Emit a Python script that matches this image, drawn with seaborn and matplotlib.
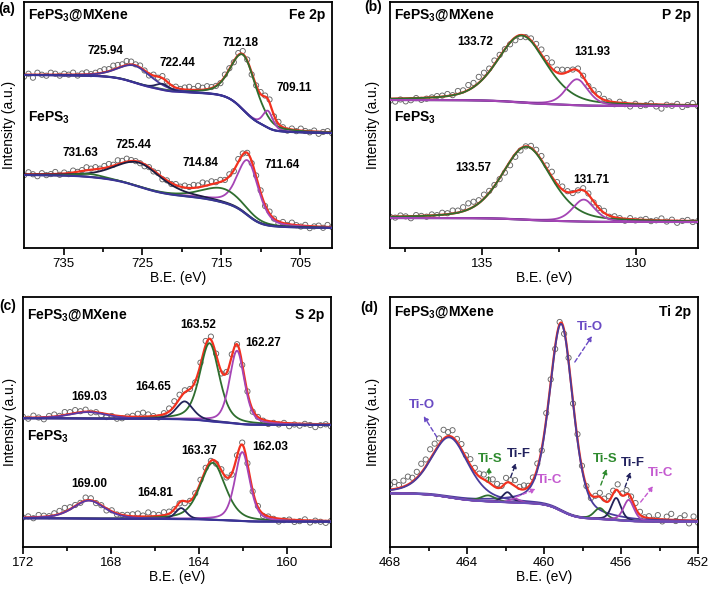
import numpy as np
import matplotlib
matplotlib.use("Agg")
import matplotlib.pyplot as plt
import seaborn as sns

# ---------------- data ----------------
# y values are in arbitrary intensity units (a.u.)

# (a) Fe 2p
FE_TICKS = [735, 725, 715, 705]
FE_MINOR = [730, 720, 710]
FE_MX_CENTERS = [712.18, 709.11, 725.94, 722.44]
FE_MX_HEIGHTS = [55, 17, 17, 6]
FE_MX_FWHM = [3.8, 1.5, 5.0, 2.0]
FE_MX_BG = [115, 173]
FE_MX_RES = [-2, 1, -3, 2, 0, -1, 2, 1, -1,
             1, 0, 2, -1, 1, 2, 0, 1, 2,
             3, 2, 4, 3, 2, 4, 3, 1, 2,
             0, -2, 1, -1, 2, 0, -2, 1, 0,
             2, 3, 1, 4, 2, 3, 1, 0, -1,
             2, 1, -1, 2, 3, 1, -2, 0, 2,
             1, 3, -1, 2, 0, -2, 1, -1, 2,
             0, -1, 1, -2, 0, 1, -1]
FE_CENTERS = [711.64, 714.84, 725.44, 731.63]
FE_HEIGHTS = [55, 14, 24, 3]
FE_FWHM = [3.2, 6.0, 7.0, 4.0]
FE_BG = [20, 73]
FE_RES = [-1, 2, 0, -2, 1, -1, 0, 2, -1,
          1, -1, 2, 0, 1, 3, 1, 2, 0,
          2, 3, 1, 4, 2, 3, 1, 0, -1,
          -2, 0, -1, 1, -2, 0, -1, 1, 0,
          2, 1, 3, 2, 4, 2, 3, 1, 2,
          0, 2, -1, 3, 1, 0, -2, 1, 2,
          -1, 2, 0, -2, 1, -1, 2, 0, -1,
          1, -2, 0, 1, -1, 2, 0]

# (b) P 2p
P_TICKS = [135, 130]
P_MINOR = [137.5, 132.5]
P_MX_CENTERS = [133.72, 131.93]
P_MX_HEIGHTS = [67, 26]
P_MX_FWHM = [1.9, 0.85]
P_MX_BG = [142, 148]
P_MX_RES = [-2, -3, -1, -3, -2, 0, -2, -1, 0, 1,
            1, 2, 0, 3, 2, 5, 4, 6, 5, 3,
            4, 2, 0, -2, -3, -2, -1, 2, 3, 5,
            4, 6, 3, 4, 2, 0, 2, 1, -1, 2,
            3, 1, 0, -2, 1, -1, -3, 0, -2, -1,
            1, -2, -4, 0, -1, 1, -2, 0, 2, -1]
P_CENTERS = [133.57, 131.71]
P_HEIGHTS = [73, 22]
P_FWHM = [1.9, 0.85]
P_BG = [26, 30]
P_RES = [0, -1, 1, 0, -2, 1, 0, -1, 1, 0,
         2, 1, 3, 2, 4, 6, 5, 3, 4, 2,
         1, -1, -3, -4, -3, -2, 0, 2, 3, 4,
         3, 5, 2, 3, 1, -1, 0, 2, 1, -1,
         0, 2, -1, 1, 0, -2, 1, -1, 0, 1,
         -1, 0, 2, -1, 1, -2, 0, 1, -1, 0]

# (c) S 2p
S_TICKS = [172, 168, 164, 160]
S_MINOR = [170, 166, 162]
S_MX_CENTERS = [163.52, 162.27, 164.65, 169.03]
S_MX_HEIGHTS = [78, 73, 18, 6.5]
S_MX_FWHM = [1.05, 0.8, 0.9, 2.0]
S_MX_BG = [122, 128.7]
S_MX_RES = [1, -1, 2, 0, -2, 1, 2, 0, 3, 2,
            3, 1, 2, -1, 0, -2, -3, -1, -3, -2,
            0, 1, 3, 4, 2, 0, -2, 1, 3, 5,
            4, 2, 0, -1, 2, 4, 3, 1, -2, 1,
            2, 0, -1, 1, -2, 0, -1, -3, -1, -2,
            0, -3, -1, -2, 0, -1, -3, -1, 0, -2]
S_CENTERS = [163.37, 162.03, 164.81, 169.00]
S_HEIGHTS = [57, 69, 11, 18]
S_FWHM = [1.35, 0.8, 0.6, 1.7]
S_BG = [25.3, 28.7]
S_RES = [0, 1, -1, 2, 1, 0, 2, 3, 4, 2,
         1, 0, 3, 2, -1, 0, -2, 1, -1, 0,
         1, 2, 3, 1, 4, 2, 1, 3, 2, 0,
         -1, -2, 0, 1, 3, 2, 0, -2, 1, 0,
         -1, 1, 2, 0, -1, 1, -2, 0, -1, -3,
         -1, 0, -2, -1, 1, -2, 0, -1, -2, 0]

# (d) Ti 2p
TI_TICKS = [468, 464, 460, 456, 452]
TI_MINOR = [466, 462, 458, 454]
TI_NAMES = ["Ti-O", "Ti-O", "Ti-S", "Ti-F", "Ti-C", "Ti-S", "Ti-F", "Ti-C"]
TI_CENTERS = [464.9, 459.1, 462.9, 461.9, 461.5, 457.1, 456.25, 455.6]
TI_HEIGHTS = [60, 187, 6, 10, 4, 11, 22, 21]
TI_FWHM = [2.3, 1.45, 0.9, 0.6, 0.6, 0.7, 0.6, 0.65]
TI_BG = [25.3, 53.7]
TI_RES = [5, 7, 3, 6, 8, 4, 6, 9, 7, 10,
          8, 6, 9, 4, 7, 3, 5, 2, 6, 4,
          3, 5, 2, 6, 4, 1, 5, 3, 6, 2,
          4, 1, 3, 5, -2, 6, 3, -3, 2, -4,
          3, -2, 5, 2, 0, -3, 1, 4, 2, 5,
          3, 6, 2, 4, 1, 5, 3, 0, 2, -1,
          4, -2, 3, 6, -1, 2, 5, -3, 4, -2]

# ---------------- styles ----------------
RED = "#f2311f"
GREEN = "#2f6e2f"
MAGENTA = "#a545b5"
NAVY = "#23235a"
BLUEPUR = "#463a9e"
BGCOL = "#3a3496"
CIRCLE = "#666666"

sns.set_theme(style="ticks")
plt.rcParams["font.family"] = ["Liberation Sans", "DejaVu Sans"]
plt.rcParams["mathtext.fontset"] = "custom"
plt.rcParams["mathtext.rm"] = "Liberation Sans"
plt.rcParams["mathtext.bf"] = "Liberation Sans:bold"
plt.rcParams["axes.edgecolor"] = "black"
plt.rcParams["xtick.color"] = "black"
plt.rcParams["text.color"] = "black"
plt.rcParams["axes.labelcolor"] = "black"


def gl_peak(x, center, height, fwhm, mix):
    u = (x - center) / fwhm
    return height * ((1 - mix) * np.exp(-4 * np.log(2) * u ** 2) + mix / (1 + 4 * u ** 2))


def draw_spectrum(ax, xlim, centers, heights, fwhm, bg_ends, residuals,
                  peak_colors, bg_colors, mix):
    k = 8
    n = (len(residuals) - 1) * k + 1
    x = np.linspace(min(xlim), max(xlim), n)
    peaks = [gl_peak(x, c, h, w, mix) for c, h, w in zip(centers, heights, fwhm)]
    total = np.sum(peaks, axis=0)
    # Shirley type background
    cum = np.concatenate([[0], np.cumsum((total[1:] + total[:-1]) / 2 * np.diff(x))])
    bg = bg_ends[0] + (bg_ends[1] - bg_ends[0]) * cum / cum[-1]
    env = bg + total

    sns.scatterplot(x=x[::k], y=env[::k] + np.array(residuals[::-1]), ax=ax,
                    s=14, marker="o", facecolors="none", edgecolors=CIRCLE,
                    linewidth=0.65, zorder=1)
    sns.lineplot(x=x, y=env, ax=ax, color=RED, linewidth=1.6,
                 estimator=None, sort=False, zorder=2)
    for p, c in zip(peaks, peak_colors):
        sns.lineplot(x=x, y=bg + p, ax=ax, color=c, linewidth=1.3,
                     estimator=None, sort=False, zorder=3)
    for c in bg_colors:
        sns.lineplot(x=x, y=bg, ax=ax, color=c, linewidth=1.5,
                     estimator=None, sort=False, zorder=4)


def style_axes(ax, xlim, ylim, ticks, minor, ylab_x):
    ax.set_xlim(*xlim)
    ax.set_ylim(*ylim)
    ax.set_xticks(ticks)
    ax.set_xticks(minor, minor=True)
    ax.set_xticklabels([str(t) for t in ticks])
    ax.set_yticks([])
    ax.tick_params(axis="x", which="major", direction="out", length=5,
                   width=1.2, labelsize=9.5, pad=2)
    ax.tick_params(axis="x", which="minor", direction="out", length=3, width=1.2)
    for s in ax.spines.values():
        s.set_visible(True)
        s.set_linewidth(1.3)
        s.set_color("black")
    ax.set_xlabel("B.E. (eV)", fontsize=10, labelpad=1)
    ax.set_ylabel("Intensity (a.u.)", fontsize=10)
    ax.yaxis.set_label_coords(ylab_x, 0.5)


def label_peaks(ax, centers, positions):
    for c, (px, py) in zip(centers, positions):
        ax.text(px, py, f"{c:.2f}", fontsize=8.5, fontweight="bold",
                ha="center", va="center", zorder=6)


def sample_labels(ax, title, y_top, y_low):
    ax.text(0.012, y_top, r"FePS$_\mathbf{3}$@MXene", transform=ax.transAxes,
            fontsize=10, fontweight="bold", ha="left", va="center")
    if y_low is not None:
        ax.text(0.012, y_low, r"FePS$_\mathbf{3}$", transform=ax.transAxes,
                fontsize=10, fontweight="bold", ha="left", va="center")
    ax.text(0.978, y_top, title, transform=ax.transAxes,
            fontsize=10, fontweight="bold", ha="right", va="center")


fig = plt.figure(figsize=(7.09, 5.89), dpi=100)
ax_a = fig.add_axes([0.0339, 0.5789, 0.4344, 0.4177])
ax_b = fig.add_axes([0.5501, 0.5789, 0.4344, 0.4177])
ax_c = fig.add_axes([0.0324, 0.0713, 0.4344, 0.4244])
ax_d = fig.add_axes([0.5501, 0.0713, 0.4344, 0.4244])

# (a) Fe 2p
draw_spectrum(ax_a, (740, 701), FE_MX_CENTERS, FE_MX_HEIGHTS, FE_MX_FWHM, FE_MX_BG,
              FE_MX_RES, [GREEN, MAGENTA, BLUEPUR, NAVY], [BGCOL], 0.4)
draw_spectrum(ax_a, (740, 701), FE_CENTERS, FE_HEIGHTS, FE_FWHM, FE_BG,
              FE_RES, [MAGENTA, GREEN, "#1c1c40", GREEN], [BGCOL], 0.4)
style_axes(ax_a, (740, 701), (0, 246), FE_TICKS, FE_MINOR, -0.027)
label_peaks(ax_a, FE_MX_CENTERS, [(712.6, 205), (705.8, 160), (729.7, 197), (720.6, 185)])
label_peaks(ax_a, FE_CENTERS, [(707.3, 83), (717.7, 85), (726.2, 103), (732.9, 95)])
sample_labels(ax_a, "Fe 2p", 0.947, 0.528)

# (b) P 2p
draw_spectrum(ax_b, (138, 128), P_MX_CENTERS, P_MX_HEIGHTS, P_MX_FWHM, P_MX_BG,
              P_MX_RES, [GREEN, MAGENTA], [NAVY, MAGENTA], 0.4)
draw_spectrum(ax_b, (138, 128), P_CENTERS, P_HEIGHTS, P_FWHM, P_BG,
              P_RES, [GREEN, MAGENTA], [NAVY, MAGENTA], 0.4)
style_axes(ax_b, (138, 128), (0, 246), P_TICKS, P_MINOR, -0.031)
label_peaks(ax_b, P_MX_CENTERS, [(135.24, 206), (131.45, 196)])
label_peaks(ax_b, P_CENTERS, [(135.3, 80), (131.45, 68)])
sample_labels(ax_b, "P 2p", 0.947, 0.528)

# (c) S 2p
draw_spectrum(ax_c, (172, 158), S_MX_CENTERS, S_MX_HEIGHTS, S_MX_FWHM, S_MX_BG,
              S_MX_RES, [GREEN, MAGENTA, NAVY, "#5a3aa8"], [BGCOL], 0.45)
draw_spectrum(ax_c, (172, 158), S_CENTERS, S_HEIGHTS, S_FWHM, S_BG,
              S_RES, [GREEN, MAGENTA, NAVY, "#5a3aa8"], [BGCOL], 0.45)
style_axes(ax_c, (172, 158), (0, 250), S_TICKS, S_MINOR, -0.019)
label_peaks(ax_c, S_MX_CENTERS, [(164.03, 222), (161.08, 204), (166.1, 160), (168.98, 150)])
label_peaks(ax_c, S_CENTERS, [(163.99, 96), (160.77, 100), (166.0, 54), (168.98, 63)])
sample_labels(ax_c, "S 2p", 0.928, 0.441)

# (d) Ti 2p
TIO = "#4a3c9c"
draw_spectrum(ax_d, (468, 452), TI_CENTERS, TI_HEIGHTS, TI_FWHM, TI_BG, TI_RES,
              [TIO, TIO, GREEN, NAVY, MAGENTA, GREEN, NAVY, MAGENTA],
              [MAGENTA, "#6a4fb8"], 0.4)
style_axes(ax_d, (468, 452), (0, 250), TI_TICKS, TI_MINOR, -0.031)
sample_labels(ax_d, "Ti 2p", 0.941, None)

ti_text_colors = {"Ti-O": "#6a4bc4", "Ti-S": "#2e8a2e", "Ti-F": "#22225e", "Ti-C": "#c45ad0"}
ti_label_pos = [(466.35, 142), (457.6, 220), (462.8, 88), (461.33, 93),
                (459.69, 67), (456.83, 88), (455.36, 84), (453.97, 74)]
ti_arrows = [((465.57, 110), (466.25, 131)), ((458.4, 185), (457.5, 211)),
             ((462.89, 66), (462.84, 80)), ((461.73, 70), (461.45, 84)),
             ((461.45, 50), (460.42, 58)), ((457.05, 62), (456.74, 78)),
             ((455.79, 60), (455.5, 75)), ((454.98, 45), (454.32, 61))]
for name, (lx, ly), (tail, head) in zip(TI_NAMES, ti_label_pos, ti_arrows):
    col = ti_text_colors[name]
    ax_d.annotate("", xy=head, xytext=tail,
                  arrowprops=dict(arrowstyle="-|>", color=col, lw=1.0,
                                  linestyle=(0, (3, 2)), mutation_scale=7,
                                  shrinkA=0, shrinkB=0), zorder=6)
    ax_d.text(lx, ly, name, color=col, fontsize=9.5, fontweight="bold",
              ha="center", va="center", zorder=6)

for label, (fx, fy) in zip(["(a)", "(b)", "(c)", "(d)"],
                           [(7, 8.5), (373, 7.5), (8, 306), (369, 308)]):
    fig.text(fx / 709, 1 - fy / 589, label, fontsize=10, fontweight="bold",
             ha="center", va="center")

fig.savefig("out.png", dpi=100)
